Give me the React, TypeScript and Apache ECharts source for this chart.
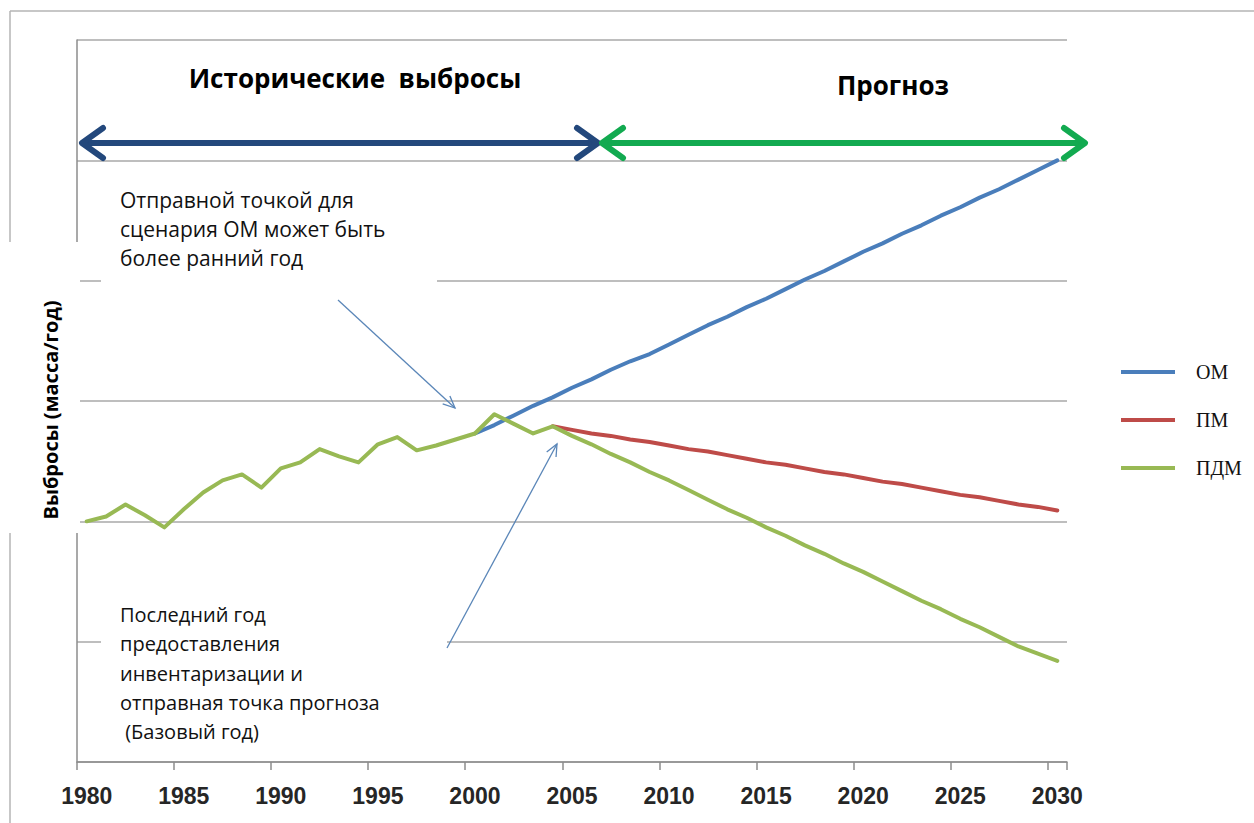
import React, { useEffect, useRef } from "react";
import * as echarts from "echarts";

// Categories: one per year, 1980..2030
const years: string[] = [
  "1980","1981","1982","1983","1984","1985","1986","1987","1988","1989",
  "1990","1991","1992","1993","1994","1995","1996","1997","1998","1999",
  "2000","2001","2002","2003","2004","2005","2006","2007","2008","2009",
  "2010","2011","2012","2013","2014","2015","2016","2017","2018","2019",
  "2020","2021","2022","2023","2024","2025","2026","2027","2028","2029","2030",
];

// ПДМ: historical 1980..2004 and its forecast 2005..2030
const pdmValues: number[] = [
  0, 0.4, 1.4, 0.5, -0.5, 1.0, 2.4, 3.4, 3.9, 2.8,
  4.4, 4.9, 6.0, 5.4, 4.9, 6.4, 7.0, 5.9, 6.3, 6.8,
  7.3, 8.9, 8.1, 7.3, 7.9,
  7.1, 6.4, 5.6, 4.9, 4.1, 3.4, 2.6, 1.8, 1.0, 0.3,
  -0.5, -1.2, -2.0, -2.7, -3.5, -4.2, -5.0, -5.8, -6.6, -7.3,
  -8.1, -8.8, -9.6, -10.4, -11.0, -11.6,
];

// ОМ: from 2000 to 2030
const omStart = "2000";
const omValues: number[] = [
  7.3, 8.0, 8.8, 9.6, 10.3, 11.1, 11.8, 12.6, 13.3, 13.9,
  14.7, 15.5, 16.3, 17.0, 17.8, 18.5, 19.3, 20.1, 20.8, 21.6,
  22.4, 23.1, 23.9, 24.6, 25.4, 26.1, 26.9, 27.6, 28.4, 29.2, 30.0,
];

// ПМ: from 2004 to 2030
const pmStart = "2004";
const pmValues: number[] = [
  7.9, 7.6, 7.3, 7.1, 6.8, 6.6, 6.3, 6.0, 5.8, 5.5,
  5.2, 4.9, 4.7, 4.4, 4.1, 3.9, 3.6, 3.3, 3.1, 2.8,
  2.5, 2.2, 2.0, 1.7, 1.4, 1.2, 0.9,
];

const seriesNames = ["ОМ", "ПМ", "ПДМ"];
const seriesColors = ["#4a7ebb", "#be4b48", "#98b954"];

const yMin = -20;
const yMax = 40;
const yStep = 10;

function pad(start: string, values: number[]): (number | null)[] {
  const idx = years.indexOf(start);
  const out: (number | null)[] = years.map(() => null);
  values.forEach((v, i) => (out[idx + i] = v));
  return out;
}

function arrowHead(x1: number, y1: number, x2: number, y2: number, len: number, spread: number) {
  const a = Math.atan2(y2 - y1, x2 - x1);
  return [
    [x2 - len * Math.cos(a - spread), y2 - len * Math.sin(a - spread)],
    [x2, y2],
    [x2 - len * Math.cos(a + spread), y2 - len * Math.sin(a + spread)],
  ];
}

export default function App() {
  const ref = useRef<HTMLDivElement>(null);

  useEffect(() => {
    if (!ref.current) return;
    const chart = echarts.init(ref.current, undefined, { renderer: "svg" });

    const navy = "#23487c";
    const green = "#12aa50";
    const thinBlue = "#5a86b8";
    const frame = "#b4b4b4";
    const axisGrey = "#8c8c8c";
    const textFont = "Open Sans";

    const bigArrow = (x1: number, x2: number, y: number, color: string) => [
      {
        type: "line",
        z: 20,
        shape: { x1: x1 + 3, y1: y, x2: x2 - 3, y2: y },
        style: { stroke: color, lineWidth: 6, lineCap: "round" },
      },
      {
        type: "polyline",
        z: 20,
        shape: { points: [[x1 + 21, y - 15], [x1, y], [x1 + 21, y + 15]] },
        style: { stroke: color, lineWidth: 6, lineCap: "round", lineJoin: "round", fill: null },
      },
      {
        type: "polyline",
        z: 20,
        shape: { points: [[x2 - 21, y - 15], [x2, y], [x2 - 21, y + 15]] },
        style: { stroke: color, lineWidth: 6, lineCap: "round", lineJoin: "round", fill: null },
      },
    ];

    const thinArrow = (x1: number, y1: number, x2: number, y2: number) => [
      {
        type: "line",
        z: 20,
        shape: { x1, y1, x2, y2 },
        style: { stroke: thinBlue, lineWidth: 1.3 },
      },
      {
        type: "polyline",
        z: 20,
        shape: { points: arrowHead(x1, y1, x2, y2, 13, 0.42) },
        style: { stroke: thinBlue, lineWidth: 1.3, fill: null },
      },
    ];

    const option: any = {
      animation: false,
      backgroundColor: "#ffffff",
      grid: { left: 77, right: 187, top: 40, bottom: 61, containLabel: false },
      xAxis: {
        type: "category",
        data: years,
        boundaryGap: true,
        axisLine: { show: true, onZero: false, lineStyle: { color: axisGrey, width: 1.5 } },
        axisTick: { show: true, interval: 4, length: 8, lineStyle: { color: axisGrey, width: 1.5 } },
        axisLabel: {
          show: true,
          interval: 4,
          margin: 22,
          fontFamily: "Liberation Sans",
          fontSize: 23,
          fontWeight: "bold",
          color: "#262626",
        },
        splitLine: { show: false },
      },
      yAxis: {
        type: "value",
        min: yMin,
        max: yMax,
        interval: yStep,
        axisLine: { show: true, lineStyle: { color: axisGrey, width: 1.5 } },
        axisTick: { show: false },
        axisLabel: { show: false },
        splitLine: { show: true, showMinLine: true, showMaxLine: true, lineStyle: { color: "#a8a8a8", width: 1.5 } },
      },
      legend: {
        orient: "vertical",
        left: 1116,
        top: 357,
        itemWidth: 54,
        itemHeight: 4,
        itemGap: 28,
        icon: "rect",
        data: seriesNames,
        textStyle: {
          fontFamily: "Liberation Serif",
          fontSize: 20,
          color: "#111",
          padding: [0, 0, 0, 16],
        },
      },
      series: [
        {
          name: seriesNames[0],
          type: "line",
          data: pad(omStart, omValues),
          symbol: "none",
          color: seriesColors[0],
          lineStyle: { width: 4, color: seriesColors[0], join: "round", cap: "round" },
          z: 3,
        },
        {
          name: seriesNames[1],
          type: "line",
          data: pad(pmStart, pmValues),
          symbol: "none",
          color: seriesColors[1],
          lineStyle: { width: 4, color: seriesColors[1], join: "round", cap: "round" },
          z: 4,
        },
        {
          name: seriesNames[2],
          type: "line",
          data: pdmValues,
          symbol: "none",
          color: seriesColors[2],
          lineStyle: { width: 4, color: seriesColors[2], join: "round", cap: "round" },
          z: 5,
        },
      ],
      graphic: [
        // outer frame
        { type: "line", z: 1, shape: { x1: 10, y1: 11, x2: 1254, y2: 11 }, style: { stroke: frame, lineWidth: 1.5 } },
        { type: "line", z: 1, shape: { x1: 10, y1: 11, x2: 10, y2: 823 }, style: { stroke: frame, lineWidth: 1.5 } },
        // white text boxes
        { type: "rect", z: 10, shape: { x: 0, y: 242, width: 80, height: 291 }, style: { fill: "#ffffff" } },
        { type: "rect", z: 10, shape: { x: 101, y: 172, width: 336, height: 114 }, style: { fill: "#ffffff" } },
        { type: "rect", z: 10, shape: { x: 101, y: 592, width: 346, height: 156 }, style: { fill: "#ffffff" } },
        // headings
        {
          type: "text",
          z: 21,
          style: {
            x: 355, y: 78, text: "Исторические  выбросы",
            fontFamily: textFont, fontSize: 26, fontWeight: "bold", fill: "#000",
            textAlign: "center", textVerticalAlign: "middle",
          },
        },
        {
          type: "text",
          z: 21,
          style: {
            x: 893, y: 85, text: "Прогноз",
            fontFamily: textFont, fontSize: 26, fontWeight: "bold", fill: "#000",
            textAlign: "center", textVerticalAlign: "middle",
          },
        },
        ...bigArrow(82, 598, 143, navy),
        ...bigArrow(602, 1085, 143, green),
        // annotations
        {
          type: "text",
          z: 21,
          style: {
            x: 120, y: 185,
            text: "Отправной точкой для\nсценария ОМ может быть\nболее ранний год",
            fontFamily: textFont, fontSize: 21, lineHeight: 29, fill: "#111",
            textAlign: "left", textVerticalAlign: "top",
          },
        },
        {
          type: "text",
          z: 21,
          style: {
            x: 120, y: 600,
            text: "Последний год\nпредоставления\nинвентаризации и\nотправная точка прогноза\n (Базовый год)",
            fontFamily: textFont, fontSize: 20, lineHeight: 29.3, fill: "#111",
            textAlign: "left", textVerticalAlign: "top",
          },
        },
        ...thinArrow(338, 300, 455, 408),
        ...thinArrow(447, 648, 557, 444),
        // y-axis title
        {
          type: "text",
          z: 21,
          x: 50,
          y: 410,
          rotation: Math.PI / 2,
          style: {
            x: 0, y: 0, text: "Выбросы (масса/год)",
            fontFamily: textFont, fontSize: 20, fontWeight: "bold", fill: "#000",
            textAlign: "center", textVerticalAlign: "middle",
          },
        },
      ],
    };

    chart.setOption(option);
    return () => chart.dispose();
  }, []);

  return (
    <div
      ref={ref}
      style={{ position: "fixed", left: 0, top: 0, width: 1254, height: 823 }}
    />
  );
}
